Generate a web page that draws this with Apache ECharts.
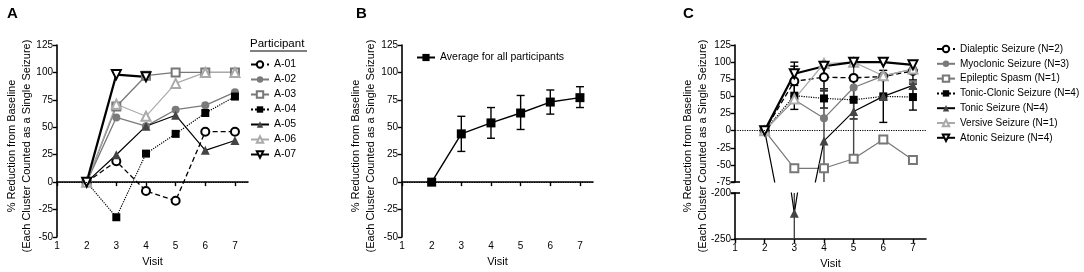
<!DOCTYPE html>
<html>
<head>
<meta charset="utf-8">
<script src="https://cdn.jsdelivr.net/npm/echarts@6/dist/echarts.min.js"></script>
<style>
  html, body { margin: 0; padding: 0; background: #fff; }
  #chart { width: 1084px; height: 272px; }
</style>
</head>
<body>
<div id="chart"></div>
<script>
const visits = [2, 3, 4, 5, 6, 7];
const visitTicks = [1, 2, 3, 4, 5, 6, 7];

// A: each participant
const a01 = [0, 19, -8, -17, 46, 46];
const a02 = [0, 59, 51, 66, 70, 82];
const a03 = [0, 69, 97, 100, 100, 100];
const a04 = [0, -32, 26, 44, 63, 78];
const a05 = [0, 25, 51, 61, 29, 38];
const a06 = [0, 71, 60, 90, 100, 100];
const a07 = [0, 98, 96, null, null, null];

// B: average with error range
const avgAll = [0, 44, 54, 63, 73, 77];
const avgLow = [null, 28, 40, 48, 62, 68];
const avgHigh = [null, 60, 68, 79, 84, 87];

// C: by seizure type (value, +/- error)
const dialeptic = [0, 72, 78, 77, 79, 87];
const dialepticErr = [0, 22, 20, 0, 0, 13];
const myoclonic = [0, 45, 18, 63, 80, 90];
const spasm = [0, -55, -55, -41, -13, -43];
const tonicClonic = [0, 51, 47, 45, 50, 49];
const tonicClonicErr = [0, 20, 14, 28, 38, 19];
const tonic = [0, -222, -15, 28, 50, 66];
const tonicErr = [0, 60, 115, 72, 0, 5];
const versive = [0, 46, 98, 100, 80, 90];
const atonic = [0, 83, 94, 100, 100, 96];
const atonicErr = [0, 17, 0, 0, 0, 0];

const FONT = 'Liberation Sans, Arial, sans-serif';
const yTitle = '% Reduction from Baseline\n(Each Cluster Counted as a Single Seizure)';

const pairs = (arr) => visits.map((v, i) => [v, arr[i]]).filter(p => p[1] != null);
const errPairs = (vals, errs) => visits
  .map((v, i) => errs[i] ? [v, vals[i] - errs[i], vals[i] + errs[i]] : null)
  .filter(Boolean);
const rangePairs = (lo, hi) => visits
  .map((v, i) => lo[i] != null ? [v, lo[i], hi[i]] : null)
  .filter(Boolean);

function renderErr(params, api) {
  const x = api.value(0);
  const lo = api.coord([x, api.value(1)]);
  const hi = api.coord([x, api.value(2)]);
  const h = 4;
  const style = { stroke: api.visual('color'), lineWidth: 1.4 };
  return {
    type: 'group',
    children: [
      { type: 'line', shape: { x1: lo[0], y1: lo[1], x2: hi[0], y2: hi[1] }, style },
      { type: 'line', shape: { x1: lo[0] - h, y1: lo[1], x2: lo[0] + h, y2: lo[1] }, style },
      { type: 'line', shape: { x1: hi[0] - h, y1: hi[1], x2: hi[0] + h, y2: hi[1] }, style }
    ]
  };
}

function errSeries(data, color, idx) {
  return {
    type: 'custom', renderItem: renderErr, data: data, clip: true,
    xAxisIndex: idx, yAxisIndex: idx, itemStyle: { color: color },
    encode: { x: 0, y: [1, 2] }, silent: true, z: 1
  };
}

function line(name, data, idx, sym, color, lineColor, lineType, lineWidth, extra) {
  return Object.assign({
    name: name, type: 'line', data: data, xAxisIndex: idx, yAxisIndex: idx,
    symbol: sym, symbolSize: sym.indexOf('riangle') >= 0 ? 9 : 8,
    showAllSymbol: true, clip: true,
    itemStyle: { color: color, borderWidth: 1.3 },
    lineStyle: { color: lineColor, type: lineType, width: lineWidth },
    emphasis: { disabled: true }, z: 3
  }, extra || {});
}

const zeroLine = {
  silent: true, symbol: 'none', label: { show: false },
  lineStyle: { color: '#000', type: 'dotted', width: 1.2 },
  data: [{ yAxis: 0 }]
};

const axisCommon = {
  axisLine: { lineStyle: { color: '#000', width: 1.6 } },
  axisTick: { length: 4, lineStyle: { color: '#000', width: 1.4 } },
  axisLabel: { color: '#000', fontSize: 10, fontFamily: FONT, margin: 4 },
  splitLine: { show: false }
};

function xAxis(idx, visible) {
  return Object.assign({}, axisCommon, {
    type: 'value', gridIndex: idx, min: 1, max: 7.44,
    axisLine: { show: visible, lineStyle: { color: '#000', width: 1.6 } },
    axisTick: { show: visible, length: 4, customValues: visitTicks, lineStyle: { color: '#000', width: 1.4 } },
    axisLabel: { show: visible, color: '#000', fontSize: 10, fontFamily: FONT, margin: 4, customValues: visitTicks },
    name: visible ? 'Visit' : '', nameLocation: 'middle', nameGap: 19,
    nameTextStyle: { color: '#000', fontSize: 11, fontFamily: FONT }
  });
}

function yAxis(idx, min, max, interval) {
  return Object.assign({}, axisCommon, {
    type: 'value', gridIndex: idx, min: min, max: max, interval: interval
  });
}

function titleText(x) {
  return {
    type: 'text', x: x, y: 146, rotation: Math.PI / 2,
    style: { text: yTitle, fontSize: 11, lineHeight: 15, fontFamily: FONT, fill: '#000', align: 'center', verticalAlign: 'middle' }
  };
}

function panelLabel(text, left) {
  return { type: 'text', left: left, top: 6, style: { text: text, fontSize: 15, fontWeight: 'bold', fontFamily: FONT, fill: '#000' } };
}

const option = {
  animation: false,
  backgroundColor: '#fff',
  grid: [
    { left: 57, top: 45, width: 191, height: 194 },
    { left: 402, top: 45, width: 191, height: 194 },
    { left: 735, top: 45, width: 191, height: 137 },
    { left: 735, top: 193, width: 191, height: 46 }
  ],
  xAxis: [xAxis(0, true), xAxis(1, true), xAxis(2, false), xAxis(3, true)],
  yAxis: [
    yAxis(0, -50, 125, 25),
    yAxis(1, -50, 125, 25),
    yAxis(2, -75, 125, 25),
    yAxis(3, -250, -200, 50)
  ],
  legend: [
    {
      orient: 'vertical', left: 245, top: 54, itemWidth: 18, itemHeight: 8, itemGap: 4,
      textStyle: { color: '#000', fontSize: 10.5, fontFamily: FONT }, selectedMode: false,
      data: ['A-01', 'A-02', 'A-03', 'A-04', 'A-05', 'A-06', 'A-07']
    },
    {
      orient: 'vertical', left: 411, top: 47, itemWidth: 18, itemHeight: 9,
      textStyle: { color: '#000', fontSize: 10.5, fontFamily: FONT }, selectedMode: false,
      data: ['Average for all participants']
    },
    {
      orient: 'vertical', left: 931, top: 39, itemWidth: 18, itemHeight: 8, itemGap: 4.8,
      textStyle: { color: '#000', fontSize: 10, fontFamily: FONT }, selectedMode: false,
      data: ['Dialeptic Seizure (N=2)', 'Myoclonic Seizure (N=3)', 'Epileptic Spasm (N=1)',
        'Tonic-Clonic Seizure (N=4)', 'Tonic Seizure (N=4)', 'Versive Seizure (N=1)', 'Atonic Seizure (N=4)']
    }
  ],
  graphic: [
    panelLabel('A', 7),
    panelLabel('B', 356),
    panelLabel('C', 683),
    titleText(19.5),
    titleText(363),
    titleText(695),
    { type: 'text', left: 250, top: 38, style: { text: 'Participant', fontSize: 11.5, fontFamily: FONT, fill: '#000' } },
    { type: 'line', shape: { x1: 250, y1: 51, x2: 307, y2: 51 }, style: { stroke: '#000', lineWidth: 1 } },
    { type: 'line', shape: { x1: 731, y1: 182, x2: 740, y2: 182 }, style: { stroke: '#000', lineWidth: 1.6 } },
    { type: 'line', shape: { x1: 731, y1: 193, x2: 740, y2: 193 }, style: { stroke: '#000', lineWidth: 1.6 } }
  ],
  series: [
    // A
    line('A-01', pairs(a01), 0, 'emptyCircle', '#000', '#000', [5, 3], 1.3, { markLine: zeroLine }),
    line('A-02', pairs(a02), 0, 'circle', '#7a7a7a', '#7a7a7a', 'solid', 1.3),
    line('A-03', pairs(a03), 0, 'emptyRect', '#777', '#777', 'solid', 1.3),
    line('A-04', pairs(a04), 0, 'rect', '#000', '#000', 'dotted', 1.2),
    line('A-05', pairs(a05), 0, 'triangle', '#444', '#000', 'solid', 1.2),
    line('A-06', pairs(a06), 0, 'emptyTriangle', '#aaa', '#aaa', 'solid', 1.2),
    line('A-07', pairs(a07), 0, 'emptyTriangle', '#000', '#000', 'solid', 2.2, { symbolRotate: 180 }),
    // B
    errSeries(rangePairs(avgLow, avgHigh), '#000', 1),
    line('Average for all participants', pairs(avgAll), 1, 'rect', '#000', '#000', 'solid', 1.4, { markLine: zeroLine, symbolSize: 9 }),
    // C upper
    errSeries(errPairs(dialeptic, dialepticErr), '#000', 2),
    errSeries(errPairs(tonicClonic, tonicClonicErr), '#000', 2),
    errSeries(errPairs(tonic, tonicErr), '#444', 2),
    errSeries(errPairs(atonic, atonicErr), '#000', 2),
    line('Dialeptic Seizure (N=2)', pairs(dialeptic), 2, 'emptyCircle', '#000', '#000', [5, 3], 1.3, { markLine: zeroLine }),
    line('Myoclonic Seizure (N=3)', pairs(myoclonic), 2, 'circle', '#7a7a7a', '#7a7a7a', 'solid', 1.2),
    line('Epileptic Spasm (N=1)', pairs(spasm), 2, 'emptyRect', '#777', '#777', 'solid', 1.2),
    line('Tonic-Clonic Seizure (N=4)', pairs(tonicClonic), 2, 'rect', '#000', '#000', 'dotted', 1.2),
    line('Tonic Seizure (N=4)', pairs(tonic), 2, 'triangle', '#444', '#000', 'solid', 1.2),
    line('Versive Seizure (N=1)', pairs(versive), 2, 'emptyTriangle', '#aaa', '#aaa', 'solid', 1.2),
    line('Atonic Seizure (N=4)', pairs(atonic), 2, 'emptyTriangle', '#000', '#000', 'solid', 2.2, { symbolRotate: 180 }),
    // C lower (broken axis)
    errSeries(errPairs(tonic, tonicErr), '#444', 3),
    line('Tonic Seizure (N=4)', pairs(tonic), 3, 'triangle', '#444', '#000', 'solid', 1.2)
  ]
};

const chart = echarts.init(document.getElementById('chart'));
chart.setOption(option);
</script>
</body>
</html>
